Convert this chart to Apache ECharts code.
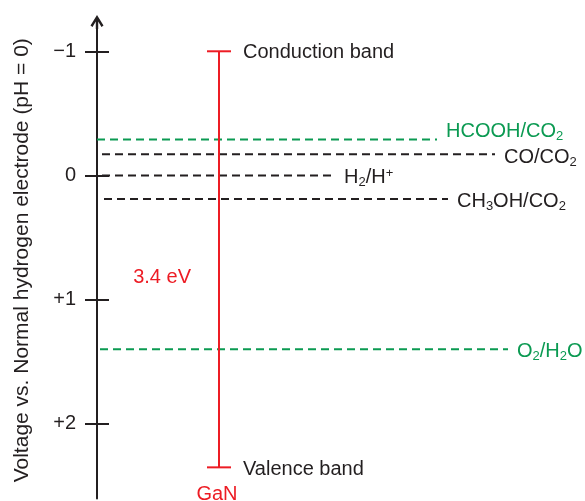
<!DOCTYPE html>
<html>
<head>
<meta charset="utf-8">
<script src="https://cdn.jsdelivr.net/npm/echarts@6/dist/echarts.min.js"></script>
<style>
  html, body { margin: 0; padding: 0; background: #fff; }
  #chart { width: 585px; height: 501px; }
</style>
</head>
<body>
<div id="chart"></div>
<script>
// redox couples, V vs NHE (pH = 0)
var couples = ['HCOOH/CO{s|2}', 'CO/CO{s|2}', 'H{s|2}/H{p|+}', 'CH{s|3}OH/CO{s|2}', 'O{s|2}/H{s|2}O']
var potentials = [-0.29, -0.17, 0, 0.19, 1.40]
var coupleGroup = ['green', 'black', 'black', 'black', 'green']

// GaN band edges (V vs NHE)
var bandEdges = [-1.0, 2.35]
var bandGap = '3.4 eV'
var material = 'GaN'

var tickValues = [-1, 0, 1, 2]
var tickLabels = ['\u22121', '0', '+1', '+2']

// layout only (x in px from the axis)
var lineStart = [0, 5, 5, 7, 3]
var lineEnd = [340, 398, 238, 351, 411]
var labelDy = [-8, 3, 1.5, 2.5, 2.5]
var bandX = 122

var FONT = '"Liberation Sans", Arial, Helvetica, sans-serif'
var INK = '#231f20'
var RED = '#ed1c24'
var GREEN = '#0b9a52'
var colors = { green: GREEN, black: INK }

var arrowPath = 'path://M6.5,0 L13,10.5 L11,12 L7.7,6.5 L7.7,14 L5.3,14 L5.3,6.5 L2,12 L0,10.5 Z'

var chart = echarts.init(document.getElementById('chart'), null, { renderer: 'canvas' })

function richFor(color) {
  return {
    s: { fontSize: 13, fontFamily: FONT, color: color, padding: [10, 0, 0, 0] },
    p: { fontSize: 13, fontFamily: FONT, color: color, padding: [0, 0, 8, 0] }
  }
}

var lineSeries = couples.map(function (name, i) {
  var c = colors[coupleGroup[i]]
  return {
    type: 'line',
    data: [[lineStart[i], potentials[i]], [lineEnd[i], potentials[i]]],
    showSymbol: false,
    silent: true,
    z: 2,
    lineStyle: { color: c, width: 2, type: [8, 5] },
    endLabel: {
      show: true,
      formatter: name,
      distance: 9,
      offset: [0, labelDy[i]],
      color: c,
      fontSize: 20,
      fontFamily: FONT,
      rich: richFor(c)
    }
  }
})

var bandSeries = {
  type: 'custom',
  z: 5,
  silent: true,
  data: [[bandX, bandEdges[0], bandEdges[1]]],
  renderItem: function (params, api) {
    var top = api.coord([api.value(0), api.value(1)])
    var bot = api.coord([api.value(0), api.value(2)])
    var x = top[0]
    var half = 12
    var ls = { stroke: RED, lineWidth: 2 }
    return {
      type: 'group',
      children: [
        { type: 'line', shape: { x1: x, y1: top[1], x2: x, y2: bot[1] }, style: ls },
        { type: 'line', shape: { x1: x - half, y1: top[1], x2: x + half, y2: top[1] }, style: ls },
        { type: 'line', shape: { x1: x - half, y1: bot[1], x2: x + half, y2: bot[1] }, style: ls },
        { type: 'text', x: x + half + 12, y: top[1] + 1,
          style: { text: 'Conduction band', fill: INK, fontSize: 20, fontFamily: FONT, align: 'left', verticalAlign: 'middle' } },
        { type: 'text', x: x + half + 12, y: bot[1] + 2,
          style: { text: 'Valence band', fill: INK, fontSize: 20, fontFamily: FONT, align: 'left', verticalAlign: 'middle' } },
        { type: 'text', x: x - 28, y: (top[1] + bot[1]) / 2 + 18,
          style: { text: bandGap, fill: RED, fontSize: 20, fontFamily: FONT, align: 'right', verticalAlign: 'middle' } },
        { type: 'text', x: x - 2, y: bot[1] + 27,
          style: { text: material, fill: RED, fontSize: 20, fontFamily: FONT, align: 'center', verticalAlign: 'middle' } }
      ]
    }
  }
}

var yBase = {
  type: 'value',
  inverse: true,
  min: -1.235,
  max: 2.6,
  splitLine: { show: false }
}

var option = {
  animation: false,
  backgroundColor: '#fff',
  grid: { left: 97, right: 0, top: 22.1, bottom: 2.6, containLabel: false, outerBoundsMode: 'none' },
  xAxis: { type: 'value', min: 0, max: 488, show: false },
  yAxis: [
    Object.assign({}, yBase, {
      position: 'left',
      name: 'Voltage vs. Normal hydrogen electrode (pH = 0)',
      nameLocation: 'middle',
      nameGap: 64,
      nameRotate: 90,
      nameTextStyle: { color: INK, fontSize: 21, fontFamily: FONT },
      axisLine: { show: true, lineStyle: { color: INK, width: 2 }, symbol: ['none', arrowPath], symbolSize: [13, 14] },
      axisTick: { show: true, length: 12, customValues: tickValues, lineStyle: { color: INK, width: 2 } },
      axisLabel: {
        customValues: tickValues,
        margin: 21,
        color: INK,
        fontSize: 20,
        fontFamily: FONT,
        formatter: function (v) { return tickLabels[tickValues.indexOf(v)] }
      }
    }),
    // second copy on the right, pulled back onto the main axis, so ticks cross it
    Object.assign({}, yBase, {
      position: 'right',
      offset: -488,
      axisLine: { show: false },
      axisTick: { show: true, inside: false, length: 12, customValues: tickValues, lineStyle: { color: INK, width: 2 } },
      axisLabel: { show: false }
    })
  ],
  series: lineSeries.concat([bandSeries])
}

chart.setOption(option)
</script>
</body>
</html>
